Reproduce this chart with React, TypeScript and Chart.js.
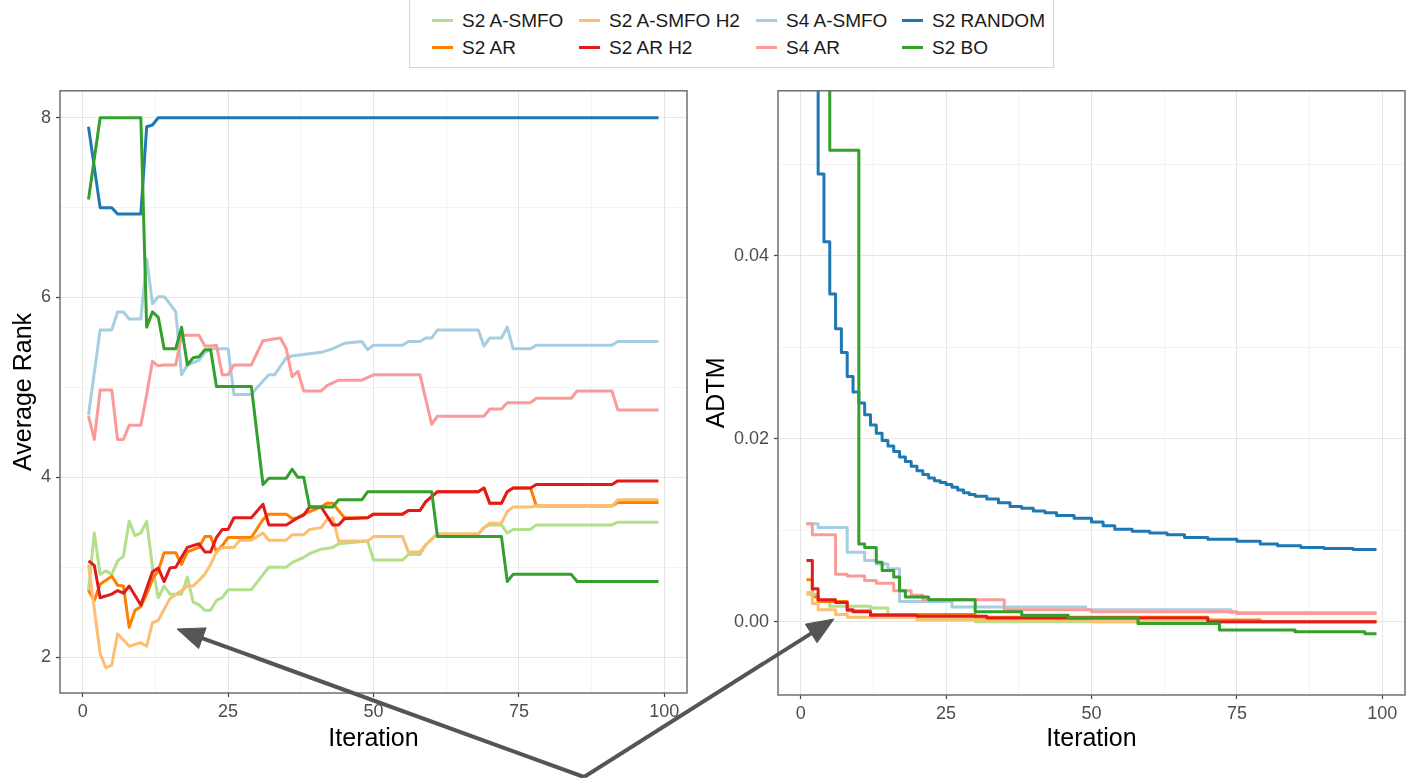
import React, { useEffect, useRef } from "react";
import { Chart, registerables } from "chart.js";
Chart.register(...registerables);

const FONT = '"Liberation Sans", Arial, Helvetica, sans-serif';
Chart.defaults.font.family = FONT;

// ---- series (ggplot draw order; later ones drawn on top) ----
const SERIES_NAMES = ["S2 A-SMFO", "S2 AR", "S2 A-SMFO H2", "S2 AR H2", "S4 A-SMFO", "S4 AR", "S2 RANDOM", "S2 BO"];
const SERIES_COLORS = ["#b2df8a", "#ff7f00", "#fdbf6f", "#e31a1c", "#a6cee3", "#fb9a99", "#1f78b4", "#33a02c"];

// ---- left panel: Average Rank (iteration, rank) ----
const RANK_A_SMFO_X = [1,2,3,4,5,6,7,8,9,10,11,12,13,14,15,17,18,19,20,21,22,23,24,25,29,32,35,36,38,39,41,43,44,49,50,55,56,58,59,61,68,69,70,72,73,74,77,78,91,92,99];
const RANK_A_SMFO_Y = [2.74,3.38,2.92,2.96,2.92,3.07,3.12,3.51,3.35,3.38,3.51,3.00,2.66,2.79,2.70,2.70,2.89,2.61,2.58,2.52,2.52,2.63,2.66,2.75,2.75,3.00,3.00,3.05,3.11,3.15,3.20,3.22,3.26,3.29,3.08,3.08,3.14,3.14,3.25,3.37,3.37,3.44,3.47,3.47,3.38,3.42,3.42,3.47,3.47,3.50,3.50];
const RANK_AR_X = [1,2,3,5,6,7,8,9,10,11,12,13,14,16,17,18,20,21,22,23,24,25,29,31,32,35,36,37,38,41,42,43,45,49,50,55,56,58,59,61,68,69,70,72,73,74,77,78,91,92,99];
const RANK_AR_Y = [2.74,2.63,2.81,2.90,2.80,2.79,2.33,2.52,2.56,2.70,2.87,2.96,3.16,3.16,3.03,3.17,3.22,3.34,3.34,3.17,3.24,3.33,3.33,3.53,3.59,3.59,3.54,3.55,3.59,3.67,3.71,3.71,3.55,3.55,3.59,3.59,3.63,3.63,3.73,3.84,3.84,3.88,3.71,3.71,3.84,3.88,3.88,3.68,3.68,3.72,3.72];
const RANK_A_SMFO_H2_X = [1,3,4,5,6,8,10,11,12,13,15,17,18,19,21,22,23,24,26,27,29,31,32,35,36,38,39,41,42,43,44,49,50,55,56,58,59,61,68,69,70,72,73,74,77,78,91,92,99];
const RANK_A_SMFO_H2_Y = [3.03,2.04,1.88,1.91,2.26,2.12,2.16,2.12,2.38,2.41,2.65,2.74,2.79,2.79,2.92,3.03,3.17,3.22,3.22,3.30,3.30,3.38,3.30,3.30,3.36,3.36,3.42,3.44,3.53,3.55,3.29,3.29,3.34,3.34,3.17,3.17,3.25,3.37,3.37,3.44,3.49,3.49,3.62,3.67,3.67,3.68,3.68,3.75,3.75];
const RANK_AR_H2_X = [1,2,3,5,6,7,8,10,12,13,14,15,16,17,18,20,21,22,23,24,25,26,29,31,32,35,37,38,39,41,43,44,45,49,50,55,56,58,59,61,68,69,70,72,73,74,77,78,91,92,99];
const RANK_AR_H2_Y = [3.07,3.02,2.66,2.70,2.74,2.71,2.79,2.58,2.95,2.99,2.84,2.99,3.00,3.11,3.22,3.26,3.17,3.17,3.33,3.42,3.42,3.55,3.55,3.70,3.47,3.47,3.55,3.58,3.67,3.67,3.47,3.47,3.54,3.55,3.59,3.59,3.63,3.63,3.73,3.84,3.84,3.88,3.71,3.71,3.84,3.88,3.88,3.92,3.92,3.96,3.96];
const RANK_S4_A_SMFO_X = [1,3,5,6,7,8,10,11,12,13,14,15,16,17,18,20,21,22,25,26,29,30,32,33,35,36,41,43,45,48,49,50,55,56,58,59,60,61,68,69,70,72,73,74,77,78,91,92,99];
const RANK_S4_A_SMFO_Y = [4.69,5.64,5.64,5.84,5.84,5.76,5.76,6.43,5.93,6.01,6.01,5.93,5.84,5.14,5.25,5.30,5.39,5.43,5.43,4.92,4.92,5.00,5.14,5.14,5.33,5.35,5.39,5.43,5.49,5.51,5.42,5.47,5.47,5.51,5.51,5.55,5.55,5.64,5.64,5.46,5.55,5.55,5.67,5.43,5.43,5.47,5.47,5.51,5.51];
const RANK_S4_AR_X = [1,2,3,5,6,7,8,10,11,12,13,14,16,17,20,21,22,23,24,25,26,29,31,34,35,36,37,38,41,42,44,48,50,58,60,61,69,70,72,73,77,78,84,85,91,92,99];
const RANK_S4_AR_Y = [4.68,4.42,4.97,4.97,4.42,4.42,4.58,4.58,4.92,5.29,5.24,5.25,5.25,5.58,5.58,5.46,5.46,5.47,5.14,5.14,5.25,5.25,5.52,5.55,5.43,5.12,5.18,4.96,4.96,5.02,5.08,5.08,5.14,5.14,4.59,4.68,4.68,4.76,4.76,4.83,4.83,4.88,4.88,4.96,4.96,4.75,4.75];
const RANK_RANDOM_X = [1,3,5,6,10,11,12,13,99];
const RANK_RANDOM_Y = [7.90,7.00,7.00,6.93,6.93,7.90,7.92,8.00,8.00];
const RANK_BO_X = [1,3,10,11,12,13,14,16,17,18,19,20,21,22,23,29,31,32,35,36,37,38,39,43,44,48,49,60,61,72,73,74,84,85,99];
const RANK_BO_Y = [7.09,8.00,8.00,5.67,5.84,5.78,5.43,5.43,5.67,5.25,5.33,5.34,5.42,5.42,5.01,5.01,3.92,3.99,3.99,4.09,4.00,4.00,3.67,3.67,3.75,3.75,3.84,3.84,3.34,3.34,2.84,2.92,2.92,2.84,2.84];

// ---- right panel: ADTM (iteration where value changes, new value) ----
const ADTM_A_SMFO_X = [1,3,5,12,15,20,30,99];
const ADTM_A_SMFO_Y = [0.0030,0.0022,0.0017,0.0015,0.0008,0.0003,0.0000,0.0000];
const ADTM_AR_X = [1,2,3,8,12,30,70,79,99];
const ADTM_AR_Y = [0.0046,0.0027,0.0022,0.0012,0.0008,0.0005,0.0002,0.0000,0.0000];
const ADTM_A_SMFO_H2_X = [1,2,3,6,8,20,50,99];
const ADTM_A_SMFO_H2_Y = [0.0032,0.0020,0.0013,0.0008,0.0005,0.0002,0.0000,0.0000];
const ADTM_AR_H2_X = [1,2,3,6,8,9,12,20,32,70,99];
const ADTM_AR_H2_Y = [0.0067,0.0036,0.0024,0.0021,0.0013,0.0011,0.0007,0.0006,0.0004,0.0000,0.0000];
const ADTM_S4_A_SMFO_X = [1,3,8,11,13,15,17,26,49,74,99];
const ADTM_S4_A_SMFO_Y = [0.0107,0.0103,0.0076,0.0067,0.0063,0.0058,0.0022,0.0016,0.0013,0.0010,0.0010];
const ADTM_S4_AR_X = [1,2,6,8,11,13,16,19,21,35,50,75,99];
const ADTM_S4_AR_Y = [0.0107,0.0095,0.0052,0.0050,0.0045,0.0042,0.0034,0.0029,0.0024,0.0013,0.0011,0.0009,0.0009];
const ADTM_RANDOM_X = [1,3,4,5,6,7,8,9,10,11,12,13,14,15,16,17,18,19,20,21,22,23,24,25,26,27,28,29,30,32,34,36,38,40,42,44,47,50,52,54,57,60,63,66,70,75,79,82,86,90,95,99];
const ADTM_RANDOM_Y = [0.1,0.0489,0.0415,0.0358,0.0320,0.0294,0.0268,0.0251,0.0239,0.0226,0.0215,0.0206,0.0198,0.0192,0.0186,0.0180,0.0175,0.0170,0.0165,0.0161,0.0157,0.0154,0.0152,0.0150,0.0147,0.0144,0.0141,0.0139,0.0137,0.0134,0.0130,0.0126,0.0124,0.0121,0.0119,0.0116,0.0113,0.0109,0.0105,0.0101,0.0099,0.0097,0.0095,0.0092,0.0090,0.0088,0.0085,0.0083,0.0081,0.0080,0.0079,0.0079];
const ADTM_BO_X = [1,5,10,11,13,14,16,17,18,22,30,38,46,58,72,85,97,99];
const ADTM_BO_Y = [0.1,0.0515,0.0085,0.0081,0.0065,0.0056,0.0049,0.0034,0.0027,0.0024,0.0011,0.0007,0.0004,-0.0002,-0.0009,-0.0011,-0.0013,-0.0013];

// ---- axes ----
const X_TICKS = [0, 12.5, 25, 37.5, 50, 62.5, 75, 87.5, 100];
const X_MAJOR = [0, 25, 50, 75, 100];
const RANK_TICKS = [2, 3, 4, 5, 6, 7, 8];
const RANK_MAJOR = [2, 4, 6, 8];
const ADTM_TICKS = [0, 0.01, 0.02, 0.03, 0.04, 0.05];
const ADTM_MAJOR = [0, 0.02, 0.04];

const RANK_X = [RANK_A_SMFO_X, RANK_AR_X, RANK_A_SMFO_H2_X, RANK_AR_H2_X, RANK_S4_A_SMFO_X, RANK_S4_AR_X, RANK_RANDOM_X, RANK_BO_X];
const RANK_Y = [RANK_A_SMFO_Y, RANK_AR_Y, RANK_A_SMFO_H2_Y, RANK_AR_H2_Y, RANK_S4_A_SMFO_Y, RANK_S4_AR_Y, RANK_RANDOM_Y, RANK_BO_Y];
const ADTM_X = [ADTM_A_SMFO_X, ADTM_AR_X, ADTM_A_SMFO_H2_X, ADTM_AR_H2_X, ADTM_S4_A_SMFO_X, ADTM_S4_AR_X, ADTM_RANDOM_X, ADTM_BO_X];
const ADTM_Y = [ADTM_A_SMFO_Y, ADTM_AR_Y, ADTM_A_SMFO_H2_Y, ADTM_AR_H2_Y, ADTM_S4_A_SMFO_Y, ADTM_S4_AR_Y, ADTM_RANDOM_Y, ADTM_BO_Y];

const isIn = (list: number[], v: number) => list.some((m) => Math.abs(m - v) < 1e-9);

const panelBorder = {
  id: "panelBorder",
  afterDatasetsDraw(chart: any) {
    const { ctx, chartArea: a } = chart;
    ctx.save();
    ctx.strokeStyle = "#666666";
    ctx.lineWidth = 1.4;
    ctx.strokeRect(a.left, a.top, a.right - a.left, a.bottom - a.top);
    ctx.restore();
  },
};

function gridOpts(major: number[]) {
  return {
    color: (c: any) => (c.tick && isIn(major, c.tick.value) ? "#e6e6e6" : "#f0f0f0"),
    lineWidth: (c: any) => (c.tick && isIn(major, c.tick.value) ? 1 : 0.8),
    tickColor: (c: any) => (c.tick && isIn(major, c.tick.value) ? "#444444" : "rgba(0,0,0,0)"),
    tickLength: 4,
    tickWidth: 1.2,
    drawTicks: true,
  };
}

function buildConfig(
  xs: number[][], ys: number[][], stepped: boolean,
  yMin: number, yMax: number, yTicks: number[], yMajor: number[], yFmt: (v: number) => string,
  yTitle: string, yWidth: number, xHeight: number, pad: any, yTitlePad: number
): any {
  const order = [7, 6, 5, 4, 3, 2, 1, 0]; // first dataset drawn on top in Chart.js
  return {
    type: "line",
    data: {
      datasets: order.map((i) => ({
        label: SERIES_NAMES[i],
        data: xs[i].map((x, k) => ({ x, y: ys[i][k] })),
        borderColor: SERIES_COLORS[i],
        backgroundColor: SERIES_COLORS[i],
        borderWidth: 3,
        pointRadius: 0,
        pointHoverRadius: 0,
        tension: 0,
        fill: false,
        stepped: stepped ? "before" : false,
        clip: 0,
        borderJoinStyle: "round",
      })),
    },
    options: {
      animation: false,
      responsive: false,
      maintainAspectRatio: false,
      events: [],
      layout: { padding: pad },
      plugins: { legend: { display: false }, tooltip: { enabled: false } },
      scales: {
        x: {
          type: "linear",
          min: -3.9,
          max: 103.9,
          afterBuildTicks: (s: any) => { s.ticks = X_TICKS.map((v) => ({ value: v })); },
          afterFit: (s: any) => { s.height = xHeight; },
          border: { display: false },
          grid: gridOpts(X_MAJOR),
          ticks: {
            autoSkip: false, maxRotation: 0, padding: 4,
            color: "#4d4d4d", font: { size: 18 },
            callback: (v: number) => (isIn(X_MAJOR, v) ? String(v) : ""),
          },
          title: { display: true, text: "Iteration", color: "#000000", font: { size: 25 }, padding: { top: 0, bottom: 24 } },
        },
        y: {
          type: "linear",
          min: yMin,
          max: yMax,
          afterBuildTicks: (s: any) => { s.ticks = yTicks.map((v) => ({ value: v })); },
          afterFit: (s: any) => { s.width = yWidth; },
          border: { display: false },
          grid: gridOpts(yMajor),
          ticks: {
            autoSkip: false, padding: 5,
            color: "#4d4d4d", font: { size: 18 },
            callback: (v: number) => (isIn(yMajor, v) ? yFmt(v) : ""),
          },
          title: { display: true, text: yTitle, color: "#000000", font: { size: 25 }, padding: { top: yTitlePad, bottom: 0 } },
        },
      },
    },
    plugins: [panelBorder],
  };
}

function ChartCanvas({ cfg, left, top, width, height }: any) {
  const ref = useRef<HTMLCanvasElement | null>(null);
  useEffect(() => {
    if (!ref.current) return;
    const chart = new Chart(ref.current, cfg());
    return () => chart.destroy();
  }, []);
  return (
    <canvas
      ref={ref}
      width={width}
      height={height}
      style={{ position: "absolute", left, top, width, height }}
    />
  );
}

function Arrow({ from, to }: { from: number[]; to: number[] }) {
  const dx = from[0] - to[0];
  const dy = from[1] - to[1];
  const len = Math.hypot(dx, dy);
  const ux = dx / len;
  const uy = dy / len;
  const L = 27;
  const W = 11;
  const bx = to[0] + ux * L;
  const by = to[1] + uy * L;
  const p1 = [bx - uy * W, by + ux * W];
  const p2 = [bx + uy * W, by - ux * W];
  return (
    <g>
      <line x1={from[0]} y1={from[1]} x2={bx - ux * 2} y2={by - uy * 2} stroke="#555555" strokeWidth={4} />
      <polygon points={`${to[0]},${to[1]} ${p1[0]},${p1[1]} ${p2[0]},${p2[1]}`} fill="#555555" stroke="#555555" strokeWidth={1} />
    </g>
  );
}

function Legend() {
  const cols = [0, 1, 2, 3];
  const colLeft = [431, 578, 755, 901];
  return (
    <div
      style={{
        position: "absolute", left: 409, top: -2, width: 645, height: 70,
        border: "1px solid #d6d6d6", boxSizing: "border-box", background: "#fff",
      }}
    >
      {cols.map((c) =>
        [0, 1].map((r) => {
          const i = c * 2 + r;
          return (
            <div
              key={i}
              style={{
                position: "absolute", left: colLeft[c] - 409, top: 8 + r * 27,
                height: 27, display: "flex", alignItems: "center", whiteSpace: "nowrap",
                fontFamily: FONT, fontSize: 19, color: "#1a1a1a",
              }}
            >
              <span style={{ display: "inline-block", width: 21, height: 3, background: SERIES_COLORS[i], marginRight: 9 }} />
              <span>{SERIES_NAMES[i]}</span>
            </div>
          );
        })
      )}
    </div>
  );
}

export default function App() {
  const leftCfg = () =>
    buildConfig(RANK_X, RANK_Y, false, 1.6, 8.3, RANK_TICKS, RANK_MAJOR, (v) => String(v),
      "Average Rank", 60, 85, { top: 12, right: 13, left: 0, bottom: 0 }, 9);
  const rightCfg = () =>
    buildConfig(ADTM_X, ADTM_Y, true, -0.008, 0.058, ADTM_TICKS, ADTM_MAJOR, (v) => v.toFixed(2),
      "ADTM", 78, 83, { top: 12, right: 3, left: 0, bottom: 0 }, 2);
  return (
    <div style={{ position: "absolute", left: 0, top: 0, width: 1408, height: 778, background: "#ffffff", overflow: "hidden", fontFamily: FONT }}>
      <ChartCanvas cfg={leftCfg} left={0} top={75} width={700} height={703} />
      <ChartCanvas cfg={rightCfg} left={700} top={75} width={708} height={703} />
      <Legend />
      <svg width={1408} height={778} style={{ position: "absolute", left: 0, top: 0, pointerEvents: "none" }}>
        <Arrow from={[584, 777]} to={[177, 629]} />
        <Arrow from={[584, 777]} to={[834, 619]} />
      </svg>
    </div>
  );
}
